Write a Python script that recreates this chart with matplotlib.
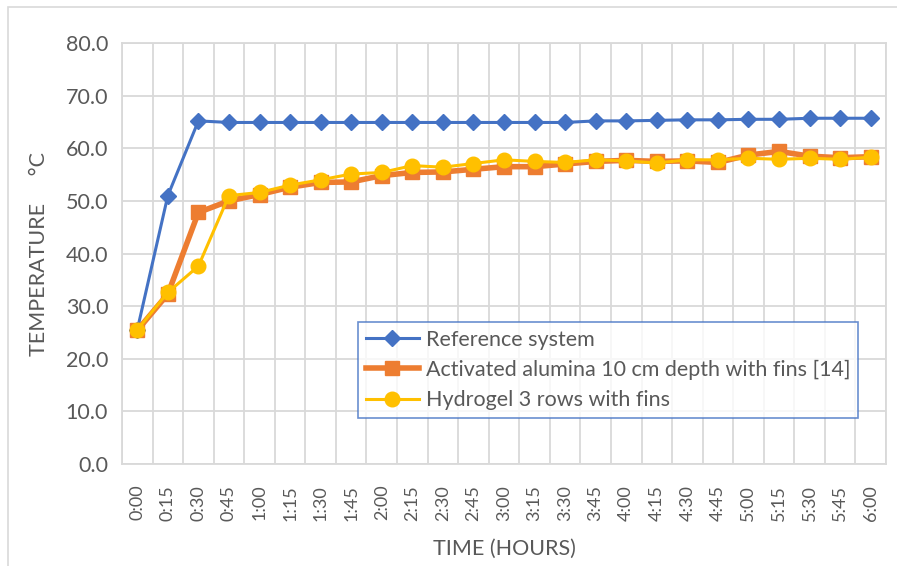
import matplotlib
matplotlib.use("Agg")
import matplotlib.pyplot as plt
from matplotlib.patches import Rectangle

# Time steps (15 min) and measured temperatures (deg C)
times = ["0:00", "0:15", "0:30", "0:45", "1:00", "1:15", "1:30", "1:45",
         "2:00", "2:15", "2:30", "2:45", "3:00", "3:15", "3:30", "3:45",
         "4:00", "4:15", "4:30", "4:45", "5:00", "5:15", "5:30", "5:45",
         "6:00"]

reference = [25.5, 51.0, 65.2, 64.9, 64.9, 64.9, 64.9, 64.9,
             64.9, 64.9, 64.9, 64.9, 64.9, 64.9, 64.9, 65.2,
             65.2, 65.3, 65.4, 65.4, 65.5, 65.5, 65.7, 65.7,
             65.7]

alumina = [25.4, 32.3, 47.8, 50.0, 51.2, 52.6, 53.5, 53.6,
           54.8, 55.4, 55.5, 56.0, 56.5, 56.5, 57.0, 57.5,
           57.7, 57.5, 57.6, 57.3, 58.7, 59.4, 58.5, 58.2,
           58.4]

hydrogel = [25.5, 32.6, 37.6, 51.0, 51.6, 53.0, 54.0, 55.1,
            55.4, 56.7, 56.4, 57.1, 57.8, 57.5, 57.3, 57.8,
            57.6, 57.2, 57.8, 57.8, 58.1, 57.9, 58.1, 57.9,
            58.3]

labels = ["Reference system",
          "Activated alumina 10 cm depth with fins [14]",
          "Hydrogel 3 rows with fins"]

TXT = "#595959"
GRID = "#D9D9D9"
FS = 15.5
plt.rcParams["font.family"] = ["Lato", "DejaVu Sans"]

fig = plt.figure(figsize=(8.97, 5.66), dpi=100)
ax = fig.add_axes([122 / 897, 1 - 464 / 566, (886 - 122) / 897, (464 - 43) / 566])

# chart area border
fig.patches.append(Rectangle((8 / 897, -0.1), 1.2, 1 - 7 / 566 + 0.1,
                             transform=fig.transFigure, fill=False,
                             edgecolor=GRID, linewidth=1.2))

x = list(range(len(times)))
ax.plot(x, reference, color="#4472C4", lw=2.2, marker="D", ms=8,
        label=labels[0], zorder=3)
ax.plot(x, alumina, color="#ED7D31", lw=4.0, marker="s", ms=10,
        label=labels[1], zorder=4)
ax.plot(x, hydrogel, color="#FFC000", lw=2.2, marker="o", ms=10.5,
        label=labels[2], zorder=5)

ax.set_xlim(-0.5, len(times) - 0.5)
ax.set_ylim(0, 80)
ax.set_yticks(range(0, 81, 10))
ax.set_yticklabels([f"{v:.1f}" for v in range(0, 81, 10)])
ax.set_xticks(x)
ax.set_xticklabels(times, rotation=90)
ax.set_xticks([i - 0.5 for i in range(len(times) + 1)], minor=True)

ax.grid(False)
ax.grid(True, which="minor", axis="x", color=GRID, lw=1.3)
ax.grid(True, which="major", axis="y", color=GRID, lw=1.3)
ax.set_axisbelow(True)
for s in ax.spines.values():
    s.set_color(GRID)
    s.set_linewidth(1.3)

ax.tick_params(axis="both", which="both", length=0, colors=TXT, labelsize=FS)
ax.tick_params(axis="x", pad=15, labelsize=13)
ax.tick_params(axis="y", pad=10)

ax.set_xlabel("TIME (HOURS)", color=TXT, fontsize=FS, labelpad=13)
ax.set_ylabel("TEMPERATURE     °C", color=TXT, fontsize=FS, labelpad=12)

leg = ax.legend(loc="upper left", bbox_to_anchor=(358 / 897, 1 - 322 / 566),
                bbox_transform=fig.transFigure, borderaxespad=0,
                fontsize=FS, frameon=True, fancybox=False, handlelength=2.5,
                labelspacing=0.48, handletextpad=0.3, borderpad=0.35,
                labelcolor=TXT)
leg.get_frame().set_edgecolor("#4472C4")
leg.get_frame().set_linewidth(1.2)

fig.savefig("out.png", dpi=100)
